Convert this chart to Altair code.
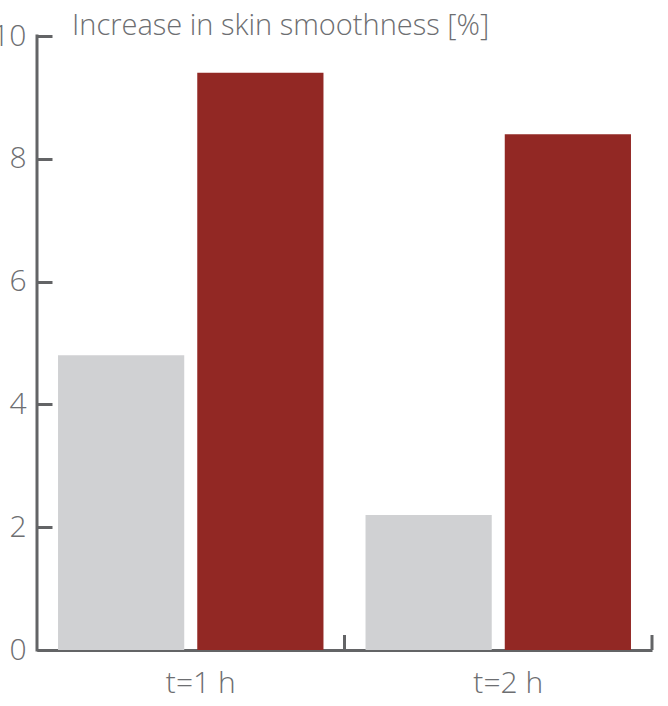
import altair as alt
import pandas as pd

# data
times = ["t=1 h", "t=2 h"]
series = ["Placebo", "Product"]
placebo_values = [4.8, 2.2]
product_values = [9.4, 8.4]
y_ticks = [0, 2, 4, 6, 8, 10]
title_text = "Increase in skin smoothness [%]"

colors = ["#d0d1d3", "#922824"]
axis_color = "#636466"
text_color = "#6d6e71"
FONT = "Open Sans"
FS = 30
FW = 300

rows = []
for t, p, a in zip(times, placebo_values, product_values):
    rows.append({"time": t, "series": series[0], "value": p})
    rows.append({"time": t, "series": series[1], "value": a})
df = pd.DataFrame(rows)

W, H = 615, 614

x_enc = alt.X(
    "time:N",
    sort=times,
    scale=alt.Scale(paddingInner=0, paddingOuter=0),
    axis=alt.Axis(
        title=None,
        labelAngle=0,
        labelFont=FONT,
        labelFontSize=FS,
        labelFontWeight=FW,
        labelColor=text_color,
        labelPadding=18,
        labelOffset=10,
        ticks=False,
        domain=True,
        domainColor=axis_color,
        domainWidth=3,
        grid=False,
    ),
)

bars = alt.Chart(df).mark_bar().encode(
    x=x_enc,
    xOffset=alt.XOffset(
        "series:N",
        sort=series,
        scale=alt.Scale(paddingInner=0.0935, paddingOuter=0.151),
    ),
    y=alt.Y(
        "value:Q",
        scale=alt.Scale(domain=[0, 10], nice=False),
        axis=alt.Axis(
            title=None,
            values=y_ticks,
            domain=False,
            grid=False,
            ticks=True,
            tickSize=15,
            tickWidth=3,
            tickColor=axis_color,
            offset=-15,
            labelPadding=11,
            labelFont=FONT,
            labelFontSize=FS,
            labelFontWeight=FW,
            labelColor=text_color,
        ),
    ),
    color=alt.Color(
        "series:N",
        scale=alt.Scale(domain=series, range=colors),
        legend=None,
    ),
)

xticks = alt.Chart(pd.DataFrame({"time": times})).mark_rule(
    color=axis_color, strokeWidth=3
).encode(
    x=alt.X("time:N", sort=times, bandPosition=1),
    y=alt.value(H - 15),
    y2=alt.value(H),
)

ydomain = alt.Chart(pd.DataFrame({"d": [0]})).mark_rule(
    color=axis_color, strokeWidth=3
).encode(
    x=alt.value(0),
    y=alt.value(-1.5),
    y2=alt.value(H + 1.5),
)

title = alt.Chart(pd.DataFrame({"t": [title_text]})).mark_text(
    align="left",
    baseline="alphabetic",
    font=FONT,
    fontSize=29,
    fontWeight=FW,
    color=text_color,
).encode(
    text="t:N",
    x=alt.value(35),
    y=alt.value(-1),
)

chart = (
    alt.layer(bars, xticks, ydomain, title)
    .properties(
        width=W,
        height=H,
        autosize=alt.AutoSizeParams(type="none"),
        padding={"left": 37, "top": 36, "right": 16, "bottom": 56},
    )
    .configure(background="white")
    .configure_view(stroke="transparent", strokeWidth=0)
)

chart.save("out.html", embed_options={"renderer": "svg", "actions": False})
